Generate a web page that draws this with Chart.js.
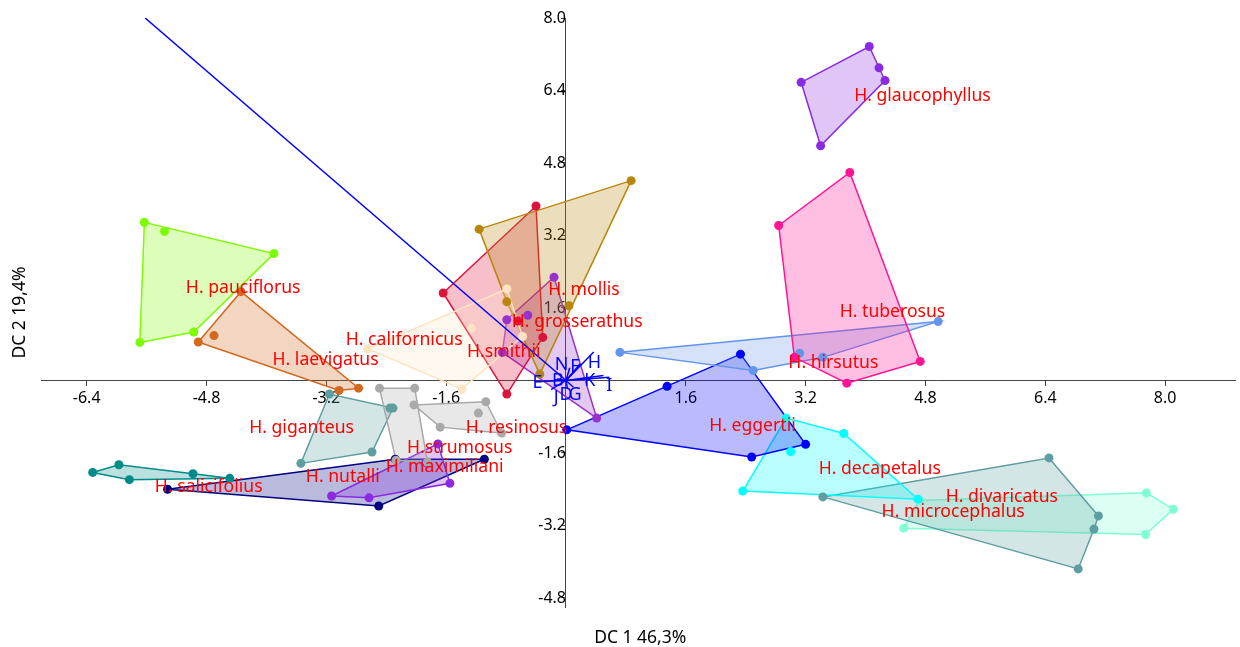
<!DOCTYPE html>
<html>
<head>
<meta charset="utf-8">
<title>DC 1 / DC 2</title>
<script src="https://cdn.jsdelivr.net/npm/chart.js@4.4.0/dist/chart.umd.min.js"></script>
<style>
    html, body { margin: 0; padding: 0; background: #ffffff; overflow: hidden; }
    #wrap { width: 1240px; height: 647px; position: relative; }
</style>
</head>
<body>
<div id="wrap"><canvas id="dcChart"></canvas></div>
<script>
// Axis ticks (0 is left out on both axes)
const xTicks = [-6.4, -4.8, -3.2, -1.6, 1.6, 3.2, 4.8, 6.4, 8.0];
const yTicks = [-4.8, -3.2, -1.6, 1.6, 3.2, 4.8, 6.4, 8.0];

// Scores [DC1, DC2] of each specimen, grouped by species
const glaucophyllus = [[4.05, 7.37], [4.18, 6.90], [4.26, 6.62], [3.14, 6.58], [3.40, 5.18]];
const hirsutus = [[3.79, 4.59], [2.84, 3.42], [3.05, 0.51], [3.75, -0.06], [4.73, 0.42]];
const tuberosus = [[0.72, 0.62], [2.50, 0.22], [3.12, 0.60], [3.43, 0.51], [4.97, 1.30]];
const pauciflorus = [[-5.63, 3.49], [-5.36, 3.29], [-3.90, 2.80], [-4.97, 1.07], [-5.69, 0.84]];
const laevigatus = [[-4.34, 1.96], [-4.91, 0.85], [-4.70, 0.99], [-3.03, -0.22], [-2.77, -0.17]];
const californicus = [[-2.65, 0.70], [-1.39, -0.19], [-1.26, 1.15], [-0.79, 2.02], [-0.58, 0.97]];
const mollis = [[0.87, 4.41], [-1.16, 3.34], [-0.79, 1.74], [0.04, 1.65], [-0.35, 0.14]];
const grosserathus = [[-0.40, 3.85], [-1.64, 1.93], [-0.79, -0.30], [-0.31, 0.95], [-0.64, 1.31]];
const smithii = [[-0.16, 2.28], [-0.79, 1.34], [-0.51, 1.44], [-0.85, 0.62], [0.41, -0.83]];
const resinosus = [[-2.03, -0.54], [-1.07, -0.47], [-1.17, -0.72], [-0.86, -1.16], [-1.68, -1.03]];
const strumosus = [[-2.49, -0.17], [-2.02, -0.17], [-1.85, -1.80], [-2.27, -1.76]];
const maximiliani = [[-1.71, -1.40], [-1.87, -1.81], [-1.55, -2.27], [-2.63, -2.59], [-3.13, -2.55]];
const nutalli = [[-5.32, -2.40], [-2.28, -1.74], [-1.09, -1.74], [-2.50, -2.77]];
const giganteus = [[-3.16, -0.30], [-2.35, -0.61], [-2.31, -0.61], [-2.59, -1.58], [-3.54, -1.83]];
const salicifolius = [[-6.32, -2.03], [-5.97, -1.86], [-5.83, -2.19], [-4.98, -2.06], [-4.49, -2.16]];
const eggertii = [[2.33, 0.58], [1.35, -0.13], [0.01, -1.09], [2.48, -1.69], [3.20, -1.41]];
const decapetalus = [[2.94, -0.83], [3.71, -1.17], [3.00, -1.57], [2.36, -2.44], [4.70, -2.62]];
const divaricatus = [[6.45, -1.71], [3.43, -2.57], [7.11, -2.99], [7.05, -3.28], [6.84, -4.16]];
const microcephalus = [[4.51, -3.26], [4.72, -2.65], [7.75, -2.48], [8.11, -2.84], [7.74, -3.40]];

const groups = [glaucophyllus, hirsutus, tuberosus, pauciflorus, laevigatus, californicus, mollis,
    grosserathus, smithii, resinosus, strumosus, maximiliani, nutalli, giganteus, salicifolius,
    eggertii, decapetalus, divaricatus, microcephalus];

const speciesNames = ["H. glaucophyllus", "H. hirsutus", "H. tuberosus", "H. pauciflorus", "H. laevigatus",
    "H. californicus", "H. mollis", "H. grosserathus", "H.smithii", "H. resinosus", "H.strumosus",
    "H. maximiliani", "H. nutalli", "H. giganteus", "H. salicifolius", "H. eggertii", "H. decapetalus",
    "H. divaricatus", "H. microcephalus"];

const speciesColors = ["#8a2be2", "#ff1493", "#6495ed", "#7cfc00", "#d2691e", "#ffe4c4", "#b8860b",
    "#dc143c", "#9932cc", "#a9a9a9", "#a9a9a9", "#8a2be2", "#000080", "#5f9ea0", "#008b8b",
    "#0000ff", "#00ffff", "#5f9ea0", "#7fffd4"];

// Where each species name is written, in score units
const nameX = [4.76, 3.57, 4.36, -4.31, -3.21, -2.16, 0.24, 0.15, -0.83, -0.66, -1.42, -1.62, -2.98, -3.53, -4.77, 2.49, 4.19, 5.82, 5.17];
const nameY = [6.28, 0.39, 1.51, 2.04, 0.45, 0.90, 2.00, 1.29, 0.63, -1.05, -1.49, -1.91, -2.13, -1.05, -2.35, -1.00, -1.95, -2.57, -2.90];

// Variable loadings (biplot vectors) and their letter positions
const varNames = ["A", "B", "D", "E", "F", "G", "H", "I", "J", "K", "N"];
const varX = [-5.62, -0.12, 0.02, -0.42, 0.19, 0.10, 0.37, 0.58, -0.20, 0.50, 0.05];
const varY = [8.00, 0.03, -0.18, -0.03, 0.37, -0.15, 0.63, 0.07, -0.20, 0.11, 0.28];
const varLabelX = [-5.80, -0.11, 0.00, -0.38, 0.12, 0.12, 0.38, 0.58, -0.13, 0.32, -0.06];
const varLabelY = [8.30, -0.02, -0.32, -0.05, 0.30, -0.32, 0.39, -0.13, -0.38, -0.02, 0.34];

function rgba(hex, a) {
    const n = parseInt(hex.slice(1), 16);
    return `rgba(${(n >> 16) & 255}, ${(n >> 8) & 255}, ${n & 255}, ${a})`;
}

// Monotone chain hull, returned closed
function convexHull(pts) {
    const p = pts.slice().sort((a, b) => a[0] - b[0] || a[1] - b[1]);
    const cross = (o, a, b) => (a[0] - o[0]) * (b[1] - o[1]) - (a[1] - o[1]) * (b[0] - o[0]);
    const lower = [];
    for (const q of p) {
        while (lower.length >= 2 && cross(lower[lower.length - 2], lower[lower.length - 1], q) <= 0) lower.pop();
        lower.push(q);
    }
    const upper = [];
    for (const q of p.slice().reverse()) {
        while (upper.length >= 2 && cross(upper[upper.length - 2], upper[upper.length - 1], q) <= 0) upper.pop();
        upper.push(q);
    }
    lower.pop();
    upper.pop();
    const hull = lower.concat(upper);
    hull.push(hull[0]);
    return hull;
}

const toXY = (arr) => arr.map(([x, y]) => ({ x, y }));

const datasets = [];

groups.forEach((pts, i) => {
    datasets.push({
        label: speciesNames[i] + " hull",
        data: toXY(convexHull(pts)),
        showLine: true,
        fill: "shape",
        backgroundColor: rgba(speciesColors[i], 0.27),
        borderColor: speciesColors[i],
        borderWidth: 1.5,
        pointRadius: 0,
        order: 3,
    });
    datasets.push({
        label: speciesNames[i],
        data: toXY(pts),
        showLine: false,
        backgroundColor: speciesColors[i],
        borderWidth: 0,
        pointRadius: 4.5,
        order: 2,
    });
});

varNames.forEach((name, i) => {
    datasets.push({
        label: name,
        data: [{ x: 0, y: 0 }, { x: varX[i], y: varY[i] }],
        showLine: true,
        fill: false,
        borderColor: "#0000ff",
        borderWidth: 1.5,
        pointRadius: 0,
        order: 1,
    });
});

// Species names, loading letters and axis titles
const textPlugin = {
    id: "textLayer",
    afterDatasetsDraw(chart) {
        const { ctx, chartArea, scales: { x, y } } = chart;
        ctx.save();
        ctx.beginPath();
        ctx.rect(chartArea.left, chartArea.top, chartArea.right - chartArea.left, chartArea.bottom - chartArea.top);
        ctx.clip();
        ctx.textAlign = "center";
        ctx.textBaseline = "middle";

        ctx.font = "17.6px 'Noto Sans'";
        ctx.fillStyle = "#ff0000";
        speciesNames.forEach((name, i) => {
            ctx.fillText(name, x.getPixelForValue(nameX[i]), y.getPixelForValue(nameY[i]));
        });

        ctx.font = "18px 'Noto Sans'";
        ctx.fillStyle = "#0000ff";
        varNames.forEach((name, i) => {
            ctx.fillText(name, x.getPixelForValue(varLabelX[i]), y.getPixelForValue(varLabelY[i]));
        });
        ctx.restore();

        ctx.save();
        ctx.font = "17.5px 'Noto Sans'";
        ctx.fillStyle = "#000000";
        ctx.textAlign = "center";
        ctx.textBaseline = "middle";
        ctx.fillText("DC 1 46,3%", (chartArea.left + chartArea.right) / 2 + 2, chart.height - 9);
        ctx.translate(20, (chartArea.top + chartArea.bottom) / 2);
        ctx.rotate(-Math.PI / 2);
        ctx.fillText("DC 2 19,4%", 0, 0);
        ctx.restore();
    },
};

const tickFont = { family: "'Noto Sans'", size: 16 };

new Chart(document.getElementById("dcChart").getContext("2d"), {
    type: "scatter",
    data: { datasets },
    options: {
        responsive: true,
        maintainAspectRatio: false,
        animation: false,
        layout: { padding: { left: 41, right: 0, top: 18, bottom: 40 } },
        plugins: {
            legend: { display: false },
            tooltip: { enabled: false },
        },
        scales: {
            x: {
                type: "linear",
                min: -7.01,
                max: 8.94,
                position: { y: 0 },
                afterBuildTicks: (scale) => { scale.ticks = xTicks.map((v) => ({ value: v })); },
                ticks: {
                    callback: (v) => Number(v).toFixed(1),
                    autoSkip: false,
                    maxRotation: 0,
                    color: "#000000",
                    font: tickFont,
                    padding: 3,
                },
                grid: { drawOnChartArea: false, tickLength: 5, color: "#444444" },
                border: { color: "#444444", width: 1 },
            },
            y: {
                type: "linear",
                min: -5.0,
                max: 8.0,
                position: { x: 0 },
                afterBuildTicks: (scale) => { scale.ticks = yTicks.map((v) => ({ value: v })); },
                ticks: {
                    callback: (v) => Number(v).toFixed(1),
                    autoSkip: false,
                    color: "#000000",
                    font: tickFont,
                    padding: 1,
                },
                grid: { drawOnChartArea: false, tickLength: 4, color: "#444444" },
                border: { color: "#444444", width: 1 },
            },
        },
    },
    plugins: [textPlugin],
});
</script>
</body>
</html>
